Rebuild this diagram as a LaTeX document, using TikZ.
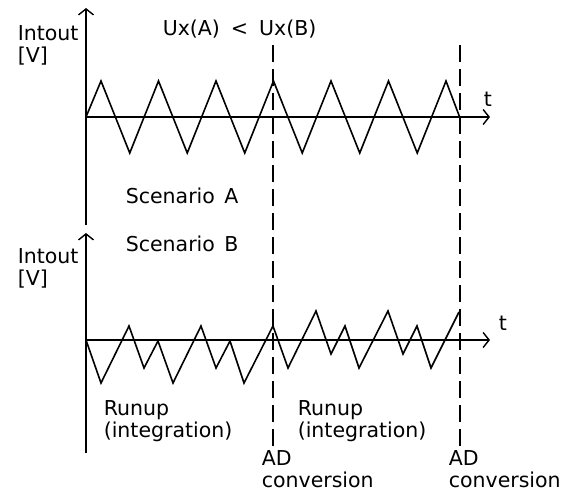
\documentclass[tikz,border=0pt]{standalone}
\usepackage{fontspec}
\setmainfont{DejaVu Sans}
\usetikzlibrary{arrows.meta}
\begin{document}
\begin{tikzpicture}[x=1pt,y=-1pt,
  line width=1.6pt, line join=miter,
  axis/.style={-{Straight Barb[length=6pt,width=15pt,line width=1.4pt]}},
  wave/.style={line join=miter, miter limit=20},
  dashline/.style={dash pattern=on 17pt off 7pt},
  lbl/.style={anchor=base west, inner sep=0pt, font=\fontsize{20.5}{22}\selectfont}]
\useasboundingbox (0,0) rectangle (561,491);
% top plot axes
\coordinate (ay0) at (86,225);
\coordinate (ay1) at (86,8);
\coordinate (ax0) at (86,117);
\coordinate (ax1) at (490,117);
\draw[axis] (ay0) -- (ay1);
\draw[axis] (ax0) -- (ax1);
% bottom plot axes
\coordinate (by0) at (86,453);
\coordinate (by1) at (86,233);
\coordinate (bx0) at (86,340);
\coordinate (bx1) at (490,340);
\draw[axis] (by0) -- (by1);
\draw[axis] (bx0) -- (bx1);
% dashed AD lines
\coordinate (d1a) at (273,45);
\coordinate (d1b) at (273,446);
\coordinate (d2a) at (460,45);
\coordinate (d2b) at (460,446);
\draw[dashline] (d1a) -- (d1b);
\draw[dashline] (d2a) -- (d2b);
% top waveform
\draw[wave] (86,117) -- (101,81) -- (129.75,153) -- (158.5,81) -- (187.25,153) -- (216,81)
  -- (244.75,153) -- (273.5,81) -- (302.25,153) -- (331,81) -- (359.75,153) -- (388.5,81)
  -- (417.25,153) -- (446,81) -- (460,118);
% bottom waveform
\draw[wave] (86,340) -- (101,383) -- (129,326) -- (144,368) -- (158,341) -- (173,383)
  -- (201,326) -- (216,368) -- (230,341) -- (244,383) -- (273,326) -- (288,368)
  -- (316,311) -- (331,354) -- (345,326) -- (359,368) -- (388,311) -- (403,354)
  -- (417,326) -- (431,368) -- (459,312);
% labels
\node[lbl] (i1) at (17,40) {Intout};
\node[lbl] (v1) at (17,62) {[V]};
\node[lbl] (i2) at (17,263) {Intout};
\node[lbl] (v2) at (17,285) {[V]};
\node[lbl] (ux) at (162,35) {Ux(A)\hspace{11pt}<\hspace{11pt}Ux(B)};
\node[lbl] (t1) at (483,106) {t};
\node[lbl] (t2) at (498,330) {t};
\node[lbl] (sa) at (125,203) {Scenario\hspace{3pt} A};
\node[lbl] (sb) at (125,251) {Scenario\hspace{3pt} B};
\node[lbl] (r1) at (103,415) {Runup};
\node[lbl] (g1) at (103,437) {(integration)};
\node[lbl] (r2) at (297,415) {Runup};
\node[lbl] (g2) at (297,437) {(integration)};
\node[lbl] (a1) at (261,465) {AD};
\node[lbl] (c1) at (261,487) {conversion};
\node[lbl] (a2) at (448,465) {AD};
\node[lbl] (c2) at (448,487) {conversion};
\end{tikzpicture}
\end{document}
